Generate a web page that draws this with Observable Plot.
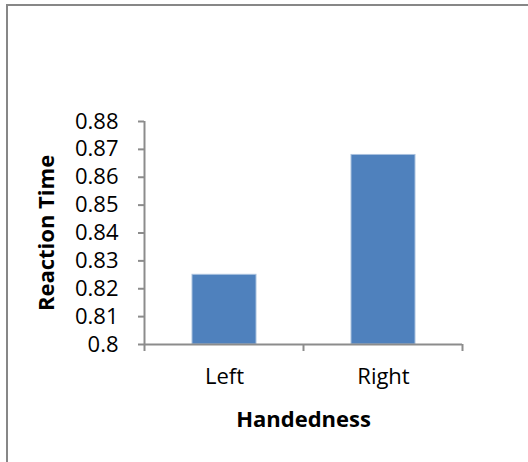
<!DOCTYPE html>
<html><head><meta charset="utf-8">
<script src="https://cdn.jsdelivr.net/npm/d3@7"></script>
<script src="https://cdn.jsdelivr.net/npm/@observablehq/plot@0.6"></script>
<style>
html,body{margin:0;padding:0;background:#fff;overflow:hidden;}
#wrap{position:relative;width:528px;height:462px;overflow:hidden;}
#border{position:absolute;left:6px;top:4px;width:600px;height:600px;border:2px solid #878787;box-sizing:border-box;}
#chart{position:absolute;left:0;top:0;}
</style></head><body>
<div id="wrap"><div id="border"></div><div id="chart"></div></div>
<script>
const categories = ["Left", "Right"];
const reactionTimes = [0.825, 0.868];
const yTicks = [0.80, 0.81, 0.82, 0.83, 0.84, 0.85, 0.86, 0.87, 0.88];
const xLabel = "Handedness";
const yLabel = "Reaction Time";

const data = categories.map((c, i) => ({handedness: c, time: reactionTimes[i]}));
const yMin = yTicks[0], yMax = yTicks[yTicks.length - 1];
const axisColor = "#8c8c8c";
const font = "'Open Sans', sans-serif";
const fs = 22;

const chart = Plot.plot({
  width: 528, height: 462,
  marginLeft: 144, marginRight: 66, marginTop: 121, marginBottom: 118,
  style: {fontFamily: font, fontSize: fs + "px", color: "#000", background: "transparent"},
  x: {domain: categories, paddingInner: 0.6, paddingOuter: 0.3},
  y: {domain: [yMin, yMax]},
  marks: [
    Plot.barY(data, {x: "handedness", y1: yMin, y2: "time", fill: "#4f81bd", stroke: "#a9c1de", strokeWidth: 1}),
    Plot.ruleY([yMin], {stroke: axisColor, strokeWidth: 2}),
    Plot.axisY(yTicks, {tickSize: 6, tickPadding: 20, stroke: axisColor, strokeWidth: 2, fill: "#000",
      fontSize: fs, tickFormat: d => String(+d.toFixed(2)), label: null}),
    Plot.axisX({tickSize: 0, tickPadding: 24, label: null, fill: "#000", fontSize: fs}),
    Plot.text([yLabel], {frameAnchor: "left", textAnchor: "middle", lineAnchor: "middle", rotate: -90, dx: -98,
      fontWeight: "bold", fill: "#000", fontSize: fs}),
    Plot.text([xLabel], {frameAnchor: "bottom", textAnchor: "middle", lineAnchor: "middle", dy: 75,
      fontWeight: "bold", fill: "#000", fontSize: fs})
  ]
});

// axis line and category-boundary ticks from the library's scales
const xs = chart.scale("x"), ys = chart.scale("y");
const svg = d3.select(chart);
const gap = (xs.step - xs.bandwidth) / 2;
const bounds = categories.map(c => xs.apply(c) - gap);
bounds.push(xs.apply(categories[categories.length - 1]) + xs.bandwidth + gap);
const g = svg.append("g").attr("stroke", axisColor).attr("stroke-width", 2);
g.append("line").attr("x1", bounds[0]).attr("x2", bounds[0])
  .attr("y1", ys.apply(yMax)).attr("y2", ys.apply(yMin));
g.selectAll(".bt").data(bounds).join("line")
  .attr("x1", d => d).attr("x2", d => d)
  .attr("y1", ys.apply(yMin)).attr("y2", ys.apply(yMin) + 7);
document.getElementById("chart").appendChild(chart);
</script>
</body></html>
